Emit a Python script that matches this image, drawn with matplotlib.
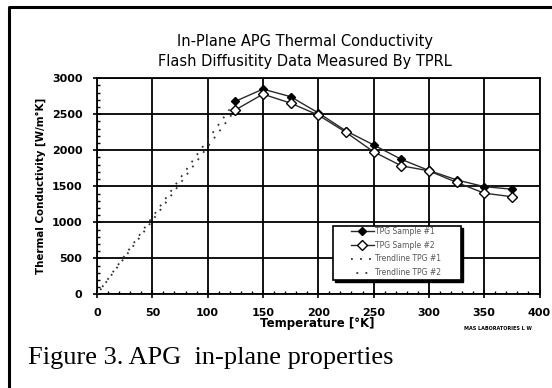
import matplotlib
matplotlib.use("Agg")
import matplotlib.pyplot as plt
from matplotlib.lines import Line2D
from matplotlib.patches import Rectangle
from matplotlib.ticker import MultipleLocator

# ---- data ----
temp = [125, 150, 175, 200, 225, 250, 275, 300, 325, 350, 375]
sample1 = [2680, 2850, 2745, 2520, 2270, 2075, 1875, 1720, 1590, 1495, 1460]
sample2 = [2560, 2780, 2655, 2490, 2250, 1980, 1785, 1715, 1555, 1405, 1355]
trend1_x = [0, 125]
trend1_y = [0, 2680]
trend2_x = [0, 125]
trend2_y = [0, 2560]
x_ticks = [0, 50, 100, 150, 200, 250, 300, 350, 400]
y_ticks = [0, 500, 1000, 1500, 2000, 2500, 3000]
labels = ["TPG Sample #1", "TPG Sample #2", "Trendline TPG #1", "Trendline TPG #2"]

W, H = 552, 388
fig = plt.figure(figsize=(W / 100, H / 100), dpi=100)
fig.patch.set_facecolor("white")

def fx(px):
    return px / W

def fy(py):
    return 1 - py / H

x0, x1, yb, yt = 97, 539.5, 294.3, 78.3
ax = fig.add_axes([fx(x0), fy(yb), fx(x1) - fx(x0), fy(yt) - fy(yb)])

lc = "#2a2a2a"
ax.plot(trend1_x, trend1_y, linestyle=(0, (1, 4)), color="#333333", lw=1.3,
        label=labels[2], zorder=3)
ax.plot(trend2_x, trend2_y, linestyle=(2, (1, 4)), color="#333333", lw=1.3,
        label=labels[3], zorder=3)
ax.plot(temp, sample1, color=lc, lw=1.0, marker="D", markersize=3.8,
        markerfacecolor="black", markeredgecolor="black", label=labels[0], zorder=4)
ax.plot(temp, sample2, color=lc, lw=1.0, marker="D", markersize=4.6,
        markerfacecolor="white", markeredgecolor="black", label=labels[1], zorder=4)

ax.set_xlim(0, 400)
ax.set_ylim(0, 3000)
ax.set_xticks(x_ticks)
ax.set_yticks(y_ticks)
ax.xaxis.set_minor_locator(MultipleLocator(10))
ax.yaxis.set_minor_locator(MultipleLocator(100))
ax.grid(True, which="major", color="black", lw=1.3)
for s in ax.spines.values():
    s.set_color("black")
    s.set_linewidth(1.3)

ax.tick_params(which="major", direction="inout", length=6, width=1.2,
               labelsize=8)
ax.tick_params(axis="x", which="major", pad=7)
ax.tick_params(axis="y", which="major", pad=7.5)
ax.tick_params(which="minor", direction="in", length=2, width=1.0)
for lab in ax.get_xticklabels() + ax.get_yticklabels():
    lab.set_fontweight("bold")

fig.text(fx(317), fy(324), "Temperature [°K]", ha="center", va="center",
         fontsize=8.5, fontweight="bold")
fig.text(fx(41), fy(186), "Thermal Conductivity [W/m°K]", ha="center", va="center",
         rotation=90, fontsize=7.4, fontweight="bold")

fig.text(fx(305), fy(41.7), "In-Plane APG Thermal Conductivity", ha="center",
         va="center", fontsize=10.5)
fig.text(fx(305), fy(61.7), "Flash Diffusitity Data Measured By TPRL", ha="center",
         va="center", fontsize=10.5)

fig.text(fx(498), fy(328), "MAS LABORATORIES L W", ha="center", va="center",
         fontsize=3.5, fontweight="bold")

fig.text(fx(28), fy(358), "Figure 3. APG  in-plane properties", ha="left",
         va="center", fontsize=19, family="Liberation Serif")

# legend (frame drawn separately)
lx0, lx1, ly0, ly1 = 333, 461, 226, 280
handles, labs = ax.get_legend_handles_labels()
order = [labs.index(l) for l in labels]
leg = ax.legend([handles[i] for i in order], [labs[i] for i in order],
                loc="upper left",
                bbox_to_anchor=((351 - x0) / (x1 - x0), (yb - 227) / (yb - yt)),
                fontsize=5.5, frameon=False,
                borderpad=0.0, labelspacing=0.62, handlelength=3.0,
                handletextpad=0.2, borderaxespad=0)
leg.set_zorder(7)
for t in leg.get_texts():
    t.set_color("#555555")

ax.add_patch(Rectangle((fx(lx0) + 1.8 / W, fy(ly1) - 1.8 / H), fx(lx1) - fx(lx0),
                       fy(ly0) - fy(ly1), transform=fig.transFigure, clip_on=False,
                       facecolor="black", edgecolor="black", lw=1.0, zorder=5))
ax.add_patch(Rectangle((fx(lx0), fy(ly1)), fx(lx1) - fx(lx0), fy(ly0) - fy(ly1),
                       transform=fig.transFigure, clip_on=False, facecolor="white",
                       edgecolor="black", lw=1.2, zorder=6))

# outer frame
fig.add_artist(Line2D([fx(9), fx(9), fx(552)], [fy(388), fy(7), fy(7)],
                      color="black", lw=2.2, transform=fig.transFigure))

fig.savefig("out.png", dpi=100)
